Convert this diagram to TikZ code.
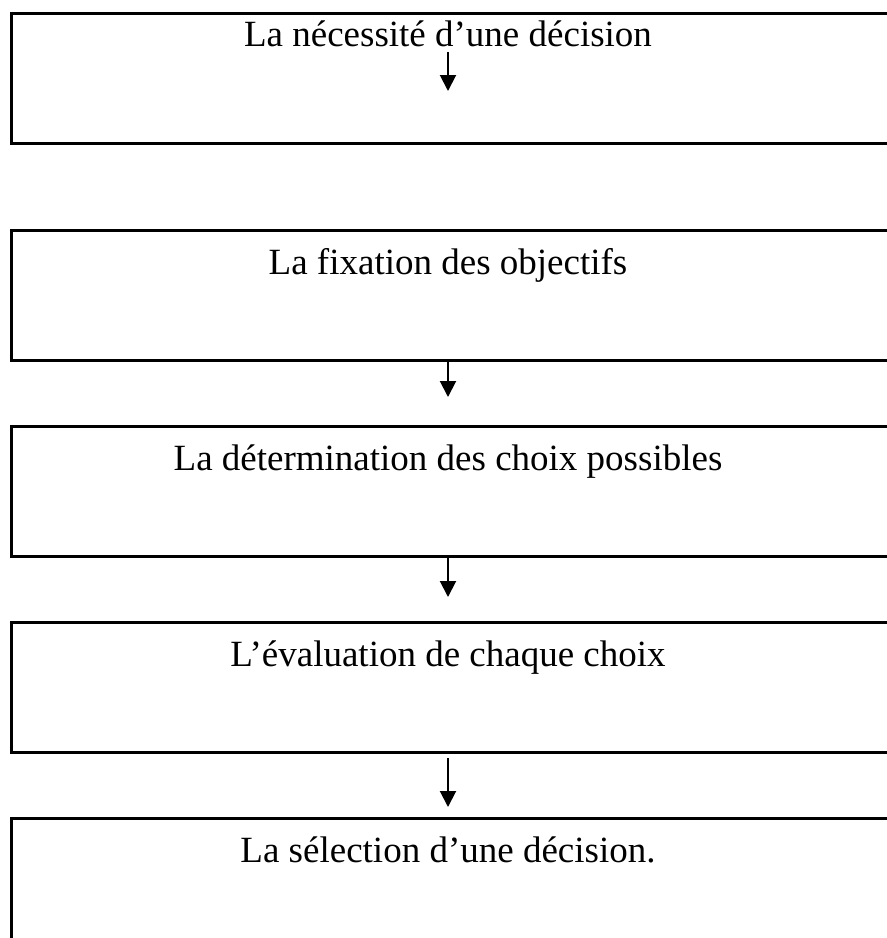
\documentclass[tikz,border=0pt]{standalone}
\usepackage{fontspec}
\setmainfont{Liberation Serif}
\usetikzlibrary{arrows.meta}
\begin{document}
\begin{tikzpicture}[x=1pt,y=-1pt,
  frame/.style={line width=3pt},
  label/.style={anchor=base,inner sep=0pt,font=\fontsize{37}{41}\selectfont},
  flow/.style={line width=2pt,-{Triangle[width=16pt,length=16pt]}}]
\useasboundingbox (0,0) rectangle (887,938);
\clip (0,0) rectangle (887,938);
% boxes, open on the right where the page cuts them
\draw[frame] (905,13) -- (11,13) -- (11,143) -- (905,143);
\draw[frame] (905,230) -- (11,230) -- (11,360) -- (905,360);
\draw[frame] (905,426) -- (11,426) -- (11,556) -- (905,556);
\draw[frame] (905,622) -- (11,622) -- (11,752) -- (905,752);
\draw[frame] (905,818) -- (11,818) -- (11,950);
% labels
\node[label] (t1) at (448,46) {La nécessité d’une décision};
\node[label] (t2) at (448,274) {La fixation des objectifs};
\node[label] (t3) at (448,470) {La détermination des choix possibles};
\node[label] (t4) at (448,666) {L’évaluation de chaque choix};
\node[label] (t5) at (448,862) {La sélection d’une décision.};
% arrows
\coordinate (a1s) at (448,52);  \coordinate (a1e) at (448,91);
\coordinate (a2s) at (448,360); \coordinate (a2e) at (448,397);
\coordinate (a3s) at (448,558); \coordinate (a3e) at (448,597);
\coordinate (a4s) at (448,758); \coordinate (a4e) at (448,807);
\draw[flow] (a1s) -- (a1e);
\draw[flow] (a2s) -- (a2e);
\draw[flow] (a3s) -- (a3e);
\draw[flow] (a4s) -- (a4e);
\end{tikzpicture}
\end{document}
